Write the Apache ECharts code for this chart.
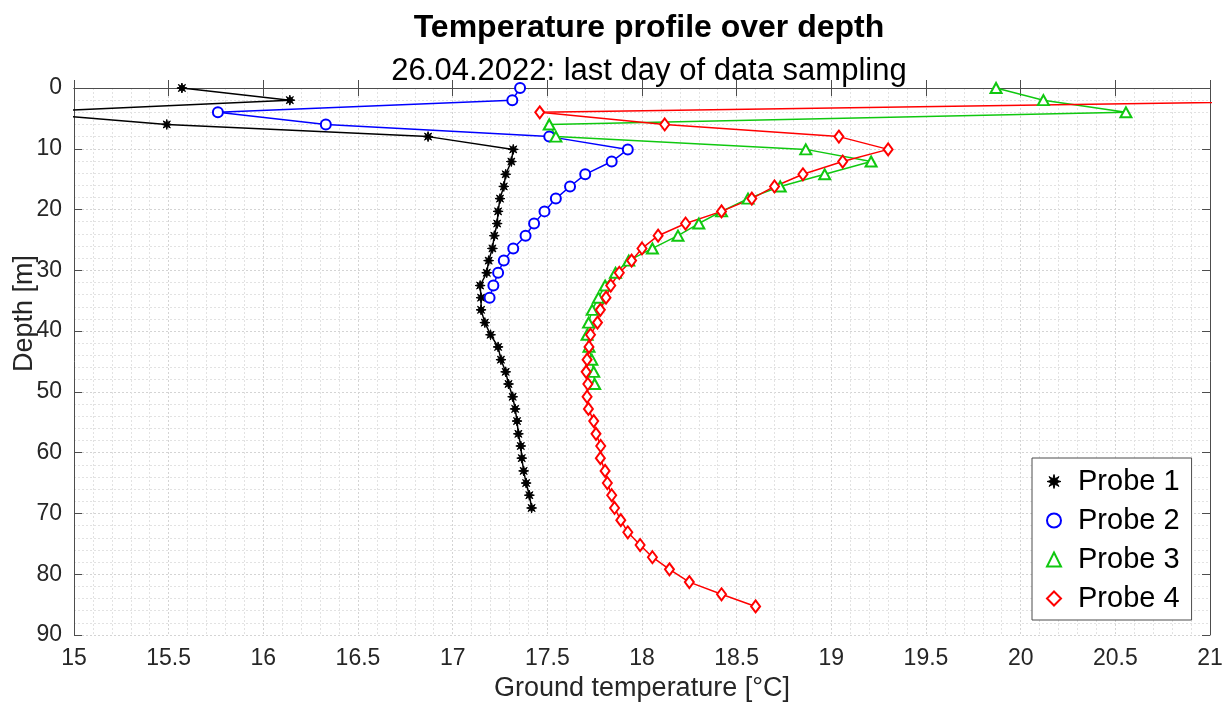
<!DOCTYPE html>
<html><head><meta charset="utf-8">
<script src="https://cdn.jsdelivr.net/npm/echarts@6/dist/echarts.min.js"></script>
<style>html,body{margin:0;padding:0;background:#fff}#c{width:1230px;height:708px}</style>
</head><body><div id="c"></div>
<script>
const probeNames = ['Probe 1', 'Probe 2', 'Probe 3', 'Probe 4'];
const depthP1 = [0,2,4,6,8,10.1,12.1,14.2,16.2,18.2,20.3,22.3,24.3,26.4,28.4,30.4,32.5,34.5,36.5,38.6,40.6,42.6,44.7,46.7,48.7,50.8,52.8,54.8,56.9,58.9,60.9,63.0,65.0,67.0,69.1];
const tempP1 = [15.57,16.14,14.72,15.49,16.87,17.32,17.31,17.28,17.27,17.25,17.24,17.235,17.22,17.21,17.19,17.18,17.145,17.15,17.15,17.17,17.20,17.24,17.255,17.28,17.295,17.317,17.33,17.34,17.347,17.36,17.365,17.375,17.388,17.405,17.417];
const depthP2 = [0,2,4,6,8,10.1,12.1,14.2,16.2,18.2,20.3,22.3,24.3,26.4,28.4,30.4,32.5,34.5];
const tempP2 = [17.356,17.315,15.76,16.33,17.51,17.925,17.84,17.70,17.62,17.545,17.485,17.43,17.385,17.32,17.27,17.24,17.215,17.195];
const depthP3 = [0,2,4,6,8,10.1,12.1,14.2,16.2,18.2,20.3,22.3,24.3,26.4,28.4,30.4,32.5,34.5,36.5,38.6,40.6,42.6,44.7,46.7,48.7];
const tempP3 = [19.87,20.12,20.556,17.51,17.545,18.865,19.21,18.965,18.73,18.56,18.42,18.30,18.19,18.055,17.93,17.86,17.805,17.77,17.737,17.718,17.71,17.72,17.735,17.745,17.75];
const depthP4 = [2,4,6,8,10.1,12.1,14.2,16.2,18.2,20.3,22.3,24.3,26.4,28.4,30.4,32.5,34.5,36.5,38.6,40.6,42.6,44.7,46.7,48.7,50.8,52.8,54.8,56.9,58.9,60.9,63.0,65.0,67.0,69.1,71.1,73.1,75.2,77.2,79.2,81.3,83.3,85.3];
const tempP4 = [21.9,17.46,18.12,19.04,19.30,19.06,18.85,18.70,18.58,18.42,18.23,18.085,18.0,17.945,17.88,17.835,17.81,17.78,17.765,17.728,17.72,17.71,17.705,17.714,17.71,17.717,17.745,17.757,17.782,17.78,17.805,17.817,17.84,17.855,17.888,17.925,17.99,18.055,18.145,18.25,18.42,18.6];

const colors = ['#000000', '#0000ff', '#10c810', '#ff0000'];

function starPath() {
  let d = '';
  const n = 8, ro = 1, ri = 0.42;
  for (let i = 0; i < n * 2; i++) {
    const r = i % 2 === 0 ? ro : ri;
    const a = Math.PI * i / n - Math.PI / 2;
    d += (i === 0 ? 'M' : 'L') + (r * Math.cos(a)).toFixed(3) + ',' + (r * Math.sin(a)).toFixed(3) + ' ';
  }
  return 'path://' + d + 'Z';
}
const STAR = starPath();

function pairs(t, d) { return t.map((v, i) => [v, d[i]]); }

const font = 'Liberation Sans, Arial, Helvetica, sans-serif';
const txt = '#262626';
const chart = echarts.init(document.getElementById('c'), null, {renderer: 'canvas'});

const axisCommon = {
  axisLine: {show: true, lineStyle: {color: '#4d4d4d', width: 1}},
  axisTick: {show: true, inside: true, length: 8, lineStyle: {color: '#4d4d4d'}},
};

chart.setOption({
  backgroundColor: '#ffffff',
  animation: false,
  textStyle: {fontFamily: font},
  title: [
    {text: 'Temperature profile over depth', left: 644, top: 7, textAlign: 'center',
     textStyle: {fontSize: 32, fontWeight: 'bold', color: '#000', fontFamily: font}},
    {text: '26.04.2022: last day of data sampling', left: 644, top: 51, textAlign: 'center',
     textStyle: {fontSize: 31, fontWeight: 'normal', color: '#000', fontFamily: font}}
  ],
  grid: {left: 74, right: 20, top: 88, bottom: 73, containLabel: false, outerBoundsMode: 'none'},
  xAxis: [
    Object.assign({
      type: 'value', min: 15, max: 21, interval: 0.5, position: 'bottom',
      name: 'Ground temperature [°C]', nameLocation: 'middle', nameGap: 40, nameMoveOverlap: false,
      nameTextStyle: {fontSize: 27, color: txt, fontFamily: font},
      axisLabel: {fontSize: 23, color: txt, margin: 12, fontFamily: font},
      splitLine: {show: true, lineStyle: {color: '#d4d4d4', type: [2, 2], width: 1}},
      minorTick: {show: false, splitNumber: 5},
      minorSplitLine: {show: true, lineStyle: {color: '#e2e2e2', type: [2, 2], width: 1}}
    }, axisCommon),
    Object.assign({
      type: 'value', min: 15, max: 21, interval: 0.5, position: 'top',
      axisLabel: {show: false}, splitLine: {show: false}
    }, axisCommon)
  ],
  yAxis: [
    Object.assign({
      type: 'value', min: 0, max: 90, interval: 10, inverse: true, position: 'left',
      name: 'Depth [m]', nameLocation: 'middle', nameGap: 36, nameRotate: 90, nameMoveOverlap: false,
      nameTextStyle: {fontSize: 27, color: txt, fontFamily: font, padding: [0, 0, 0, 96]},
      axisLabel: {fontSize: 23, color: txt, margin: 12, fontFamily: font},
      splitLine: {show: true, lineStyle: {color: '#d4d4d4', type: [2, 2], width: 1}},
      minorTick: {show: false, splitNumber: 5},
      minorSplitLine: {show: true, lineStyle: {color: '#e2e2e2', type: [2, 2], width: 1}}
    }, axisCommon),
    Object.assign({
      type: 'value', min: 0, max: 90, interval: 10, inverse: true, position: 'right',
      axisLabel: {show: false}, splitLine: {show: false}
    }, axisCommon)
  ],
  legend: {
    orient: 'vertical', left: 1032, top: 458,
    padding: [8, 12, 6, 14], itemGap: 8, itemWidth: 14, itemHeight: 14,
    backgroundColor: '#ffffff', borderColor: '#4d4d4d', borderWidth: 1, borderRadius: 0,
    textStyle: {fontSize: 29, color: '#000', fontFamily: font, lineHeight: 31, padding: [0, 0, 0, 12]},
    data: [
      {name: probeNames[0], icon: STAR, itemStyle: {color: colors[0], borderColor: colors[0], borderWidth: 1}},
      {name: probeNames[1], icon: 'emptyCircle', itemStyle: {color: colors[1]}},
      {name: probeNames[2], icon: 'emptyTriangle', itemStyle: {color: colors[2]}},
      {name: probeNames[3], icon: 'emptyDiamond', itemStyle: {color: colors[3]}}
    ]
  },
  series: [
    {name: probeNames[0], type: 'line', data: pairs(tempP1, depthP1), clip: true,
     symbol: STAR, symbolSize: 10, showAllSymbol: true,
     itemStyle: {color: colors[0], borderColor: colors[0], borderWidth: 1},
     lineStyle: {color: colors[0], width: 1.5}},
    {name: probeNames[1], type: 'line', data: pairs(tempP2, depthP2), clip: true,
     symbol: 'emptyCircle', symbolSize: 10, showAllSymbol: true,
     itemStyle: {color: colors[1], borderWidth: 1.5},
     lineStyle: {color: colors[1], width: 1.5}},
    {name: probeNames[2], type: 'line', data: pairs(tempP3, depthP3), clip: true,
     symbol: 'emptyTriangle', symbolSize: [11, 10], showAllSymbol: true,
     itemStyle: {color: colors[2], borderWidth: 1.5},
     lineStyle: {color: colors[2], width: 1.5}},
    {name: probeNames[3], type: 'line', data: pairs(tempP4, depthP4), clip: true,
     symbol: 'emptyDiamond', symbolSize: [9, 12], showAllSymbol: true,
     itemStyle: {color: colors[3], borderWidth: 1.5},
     lineStyle: {color: colors[3], width: 1.5}}
  ]
});
</script></body></html>
